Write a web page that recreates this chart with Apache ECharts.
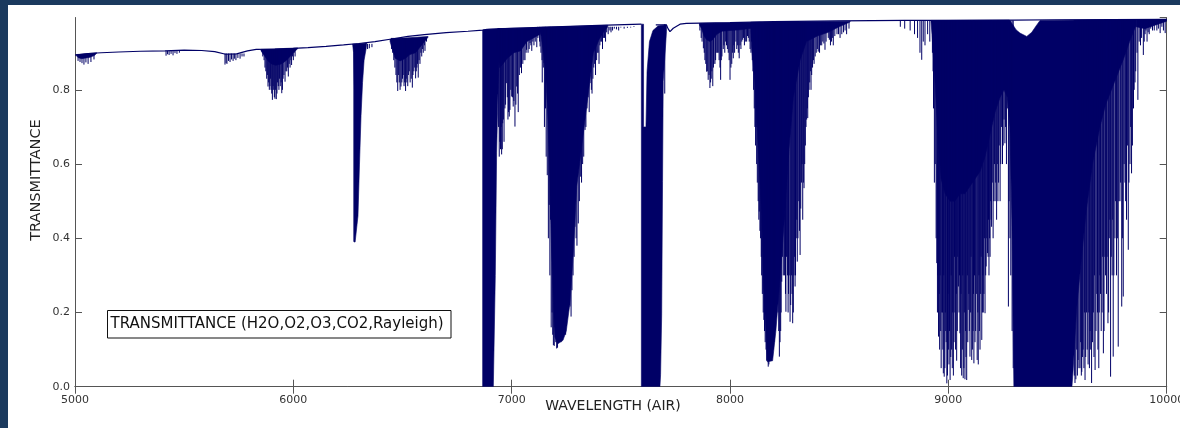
<!DOCTYPE html>
<html>
<head>
<meta charset="utf-8">
<script src="https://cdn.jsdelivr.net/npm/echarts@6/dist/echarts.min.js"></script>
<style>
  html, body { margin: 0; padding: 0; width: 1180px; height: 428px; overflow: hidden; background: #1b3a5e; }
  #chart { position: absolute; left: 8px; top: 5px; width: 1172px; height: 423px; background: #ffffff; }
</style>
</head>
<body>
<div id="chart"></div>
<script>
// Atmospheric transmittance, 5000-10000 Å (air wavelengths)

const xTicks = [5000, 6000, 7000, 8000, 9000, 10000];
const yTicks = [0.0, 0.2, 0.4, 0.6, 0.8];

// Clear-sky continuum (Rayleigh + ozone), broken across the saturated O2 A band
const continuumWave = [5000, 5060, 5120, 5200, 5300, 5412, 5500, 5580, 5640, 5690, 5740, 5790, 5830, 5916, 6000, 6067, 6150, 6230, 6300, 6374, 6450, 6525, 6600, 6700, 6800, 6867, 6887, 7000, 7200, 7400, 7594, 7620, 7660, 7709, 7716, 7725, 7740, 7771, 7800, 8000, 8200, 8500, 8800, 9000, 9300, 9500, 10000];
const continuumTrans = [0.894, 0.898, 0.900, 0.902, 0.904, 0.905, 0.907, 0.906, 0.903, 0.896, 0.897, 0.905, 0.909, 0.910, 0.912, 0.914, 0.917, 0.921, 0.925, 0.930, 0.937, 0.944, 0.949, 0.954, 0.958, 0.961, 0.963, 0.966, 0.970, 0.974, 0.977, null, 0.975, 0.975, 0.965, 0.957, 0.966, 0.977, 0.979, 0.981, 0.984, 0.986, 0.987, 0.987, 0.988, 0.989, 0.990];

// Blended / saturated absorption regions: outlines as [wavelength, transmittance]
const band5050 = [[5005, 0.895], [5100, 0.900], [5100, 0.899], [5090, 0.893], [5070, 0.888], [5050, 0.886], [5030, 0.884], [5014, 0.887], [5005, 0.893]];
const band5920 = [[5852, 0.909], [6020, 0.913], [6020, 0.911], [6000, 0.900], [5985, 0.890], [5965, 0.878], [5945, 0.870], [5920, 0.866], [5900, 0.870], [5884, 0.878], [5870, 0.890], [5852, 0.905]];
const band6280 = [[6270, 0.923], [6336, 0.926], [6333, 0.910], [6324, 0.880], [6317, 0.820], [6310, 0.730], [6303, 0.600], [6296, 0.460], [6283, 0.390], [6278, 0.390], [6278, 0.800], [6276, 0.900], [6272, 0.920]];
const band6520 = [[6443, 0.937], [6617, 0.944], [6617, 0.942], [6603, 0.932], [6580, 0.915], [6560, 0.900], [6534, 0.895], [6514, 0.885], [6489, 0.878], [6466, 0.885], [6443, 0.930]];
const bandO2B = [[6867, 0.961], [6895, 0.963], [6920, 0.964], [6945, 0.965], [6945, 0.940], [6938, 0.810], [6931, 0.630], [6925, 0.300], [6916, 0.0], [6867, 0.0]];
const band7040 = [[6935, 0.965], [7130, 0.968], [7130, 0.950], [7100, 0.940], [7070, 0.930], [7040, 0.905], [7010, 0.900], [6980, 0.885], [6960, 0.870], [6945, 0.860], [6935, 0.900]];
const band7250 = [[7125, 0.968], [7440, 0.974], [7440, 0.970], [7420, 0.955], [7400, 0.935], [7374, 0.900], [7336, 0.720], [7298, 0.540], [7282, 0.360], [7267, 0.226], [7250, 0.150], [7235, 0.125], [7210, 0.115], [7198, 0.134], [7191, 0.226], [7183, 0.360], [7176, 0.540], [7166, 0.720], [7155, 0.850], [7145, 0.900], [7135, 0.945], [7125, 0.965]];
const bandO2A = [[7594, 0.977], [7604, 0.977], [7604, 0.700], [7615, 0.700], [7620, 0.850], [7631, 0.930], [7647, 0.960], [7670, 0.972], [7700, 0.975], [7709, 0.975], [7709, 0.957], [7694, 0.822], [7691, 0.553], [7687, 0.193], [7682, 0.032], [7679, 0.0], [7594, 0.0]];
const band7950 = [[7860, 0.979], [8140, 0.982], [8140, 0.972], [8100, 0.966], [8050, 0.962], [8000, 0.960], [7963, 0.958], [7940, 0.950], [7921, 0.935], [7908, 0.930], [7893, 0.935], [7881, 0.945], [7870, 0.965], [7860, 0.975]];
const band8200 = [[8095, 0.982], [8550, 0.985], [8550, 0.983], [8500, 0.970], [8450, 0.955], [8400, 0.945], [8350, 0.930], [8321, 0.880], [8290, 0.780], [8270, 0.640], [8250, 0.460], [8230, 0.300], [8210, 0.150], [8195, 0.070], [8171, 0.067], [8165, 0.148], [8152, 0.283], [8145, 0.463], [8129, 0.643], [8114, 0.822], [8099, 0.912], [8095, 0.960]];
const band9400 = [[8920, 0.987], [9280, 0.988], [9296, 0.975], [9310, 0.962], [9328, 0.953], [9359, 0.944], [9382, 0.955], [9405, 0.975], [9420, 0.987], [9700, 0.989], [9860, 0.989], [9860, 0.975], [9830, 0.930], [9800, 0.880], [9760, 0.820], [9720, 0.760], [9694, 0.700], [9660, 0.600], [9632, 0.476], [9610, 0.350], [9587, 0.207], [9572, 0.050], [9566, 0.0], [9300, 0.0], [9296, 0.200], [9291, 0.450], [9282, 0.700], [9270, 0.780], [9255, 0.800], [9237, 0.780], [9214, 0.740], [9191, 0.680], [9168, 0.620], [9145, 0.580], [9122, 0.560], [9099, 0.540], [9076, 0.520], [9053, 0.520], [9030, 0.500], [9008, 0.500], [8985, 0.520], [8967, 0.560], [8953, 0.660], [8939, 0.820], [8925, 0.950]];
const band9930 = [[9860, 0.989], [10000, 0.990], [10000, 0.985], [9950, 0.975], [9900, 0.965], [9860, 0.970]];

// Individual absorption lines: [wavelength, line-centre transmittance]
const lines5050 = [[5014, 0.878], [5023, 0.875], [5032, 0.872], [5041, 0.868], [5050, 0.874], [5060, 0.870], [5073, 0.875], [5087, 0.882]];
const lines5450 = [[5417, 0.892], [5424, 0.896], [5431, 0.894], [5440, 0.897], [5449, 0.893], [5458, 0.899], [5467, 0.897], [5478, 0.900]];
const lines5720 = [[5687, 0.868], [5692, 0.872], [5696, 0.870], [5703, 0.878], [5710, 0.875], [5717, 0.882], [5724, 0.878], [5730, 0.884], [5737, 0.880], [5746, 0.886], [5756, 0.884], [5765, 0.890], [5774, 0.890]];
const lines5920 = [[5860, 0.890], [5866, 0.880], [5870, 0.860], [5874, 0.850], [5878, 0.830], [5881, 0.840], [5884, 0.809], [5887, 0.820], [5890, 0.800], [5893, 0.810], [5895, 0.830], [5898, 0.800], [5901, 0.790], [5904, 0.773], [5907, 0.810], [5910, 0.800], [5913, 0.780], [5916, 0.776], [5919, 0.800], [5922, 0.775], [5925, 0.790], [5928, 0.820], [5931, 0.810], [5934, 0.800], [5937, 0.830], [5940, 0.810], [5944, 0.820], [5947, 0.791], [5950, 0.800], [5953, 0.830], [5957, 0.840], [5962, 0.822], [5966, 0.850], [5970, 0.850], [5973, 0.860], [5977, 0.836], [5981, 0.870], [5985, 0.860], [5989, 0.880], [5992, 0.867], [5996, 0.890], [6000, 0.880], [6004, 0.900], [6008, 0.890]];
const lines6280 = [[6278, 0.391], [6290, 0.455], [6340, 0.910], [6348, 0.912], [6360, 0.915]];
const lines6520 = [[6450, 0.910], [6455, 0.900], [6460, 0.880], [6465, 0.860], [6470, 0.840], [6474, 0.820], [6478, 0.797], [6481, 0.840], [6485, 0.820], [6489, 0.800], [6493, 0.809], [6497, 0.820], [6500, 0.830], [6503, 0.840], [6507, 0.810], [6510, 0.820], [6514, 0.797], [6517, 0.830], [6520, 0.820], [6524, 0.810], [6527, 0.840], [6531, 0.850], [6535, 0.820], [6540, 0.830], [6545, 0.806], [6548, 0.840], [6552, 0.850], [6556, 0.860], [6560, 0.831], [6563, 0.850], [6566, 0.860], [6569, 0.870], [6572, 0.833], [6576, 0.880], [6580, 0.870], [6584, 0.900], [6588, 0.890], [6592, 0.910], [6595, 0.900], [6600, 0.920], [6603, 0.905], [6610, 0.930]];
const lines7040 = [[6940, 0.700], [6943, 0.620], [6946, 0.660], [6949, 0.640], [6952, 0.700], [6954, 0.626], [6957, 0.640], [6959, 0.710], [6962, 0.720], [6965, 0.660], [6969, 0.750], [6972, 0.760], [6977, 0.818], [6980, 0.780], [6983, 0.720], [6986, 0.740], [6989, 0.728], [6992, 0.746], [6996, 0.800], [7000, 0.782], [7004, 0.780], [7007, 0.755], [7010, 0.770], [7015, 0.701], [7019, 0.760], [7023, 0.809], [7027, 0.790], [7030, 0.740], [7035, 0.840], [7040, 0.860], [7045, 0.845], [7051, 0.870], [7056, 0.880], [7061, 0.880], [7066, 0.900], [7068, 0.908], [7075, 0.900], [7080, 0.910], [7084, 0.926], [7088, 0.920], [7092, 0.905], [7097, 0.930], [7102, 0.920], [7108, 0.930], [7115, 0.915], [7120, 0.940], [7130, 0.917], [7139, 0.880], [7148, 0.872], [7160, 0.880]];
const lines7250 = [[7120, 0.950], [7128, 0.930], [7134, 0.900], [7140, 0.820], [7145, 0.860], [7150, 0.700], [7155, 0.750], [7158, 0.620], [7163, 0.570], [7168, 0.400], [7172, 0.490], [7175, 0.300], [7178, 0.450], [7181, 0.160], [7185, 0.200], [7188, 0.140], [7191, 0.112], [7195, 0.110], [7198, 0.160], [7202, 0.120], [7206, 0.103], [7210, 0.105], [7214, 0.153], [7218, 0.140], [7222, 0.130], [7226, 0.120], [7229, 0.160], [7235, 0.171], [7240, 0.160], [7243, 0.200], [7247, 0.140], [7252, 0.189], [7256, 0.200], [7260, 0.250], [7264, 0.220], [7267, 0.216], [7272, 0.189], [7276, 0.260], [7281, 0.300], [7286, 0.350], [7290, 0.431], [7295, 0.400], [7299, 0.380], [7305, 0.440], [7310, 0.500], [7316, 0.566], [7320, 0.550], [7325, 0.600], [7330, 0.620], [7336, 0.692], [7340, 0.700], [7345, 0.750], [7350, 0.780], [7355, 0.740], [7359, 0.818], [7362, 0.850], [7365, 0.800], [7368, 0.790], [7372, 0.830], [7376, 0.860], [7380, 0.870], [7384, 0.840], [7389, 0.880], [7392, 0.900], [7396, 0.900], [7400, 0.870], [7404, 0.920], [7408, 0.930], [7412, 0.930], [7416, 0.910], [7420, 0.940], [7425, 0.940], [7430, 0.930], [7435, 0.955], [7442, 0.950], [7450, 0.960], [7455, 0.955], [7462, 0.960], [7470, 0.965], [7480, 0.963], [7490, 0.960], [7500, 0.968], [7515, 0.965], [7530, 0.967], [7545, 0.968], [7560, 0.972], [7575, 0.970]];
const linesO2A = [[7701, 0.790]];
const lines7950 = [[7862, 0.960], [7868, 0.940], [7872, 0.930], [7878, 0.912], [7882, 0.900], [7885, 0.880], [7889, 0.870], [7893, 0.849], [7896, 0.850], [7900, 0.827], [7904, 0.840], [7908, 0.805], [7911, 0.820], [7914, 0.830], [7917, 0.850], [7921, 0.810], [7924, 0.860], [7926, 0.870], [7931, 0.870], [7934, 0.880], [7937, 0.900], [7942, 0.900], [7946, 0.900], [7950, 0.880], [7954, 0.860], [7957, 0.827], [7960, 0.880], [7963, 0.890], [7969, 0.910], [7972, 0.920], [7976, 0.900], [7980, 0.930], [7984, 0.920], [7988, 0.910], [7992, 0.900], [7996, 0.880], [8000, 0.827], [8004, 0.860], [8008, 0.870], [8012, 0.900], [8015, 0.885], [8018, 0.920], [8021, 0.900], [8027, 0.930], [8031, 0.910], [8035, 0.920], [8038, 0.900], [8042, 0.885], [8046, 0.920], [8050, 0.910], [8054, 0.930], [8058, 0.935], [8062, 0.940], [8066, 0.920], [8070, 0.930], [8076, 0.930], [8080, 0.945], [8084, 0.940], [8088, 0.930], [8092, 0.910], [8096, 0.900]];
const lines8200 = [[8098, 0.930], [8102, 0.880], [8105, 0.850], [8108, 0.800], [8111, 0.750], [8114, 0.700], [8117, 0.650], [8120, 0.700], [8122, 0.600], [8125, 0.550], [8129, 0.500], [8132, 0.450], [8134, 0.472], [8137, 0.420], [8140, 0.400], [8143, 0.350], [8145, 0.300], [8148, 0.250], [8152, 0.200], [8155, 0.180], [8158, 0.150], [8161, 0.120], [8165, 0.100], [8168, 0.070], [8171, 0.070], [8175, 0.054], [8178, 0.060], [8180, 0.080], [8184, 0.100], [8188, 0.085], [8190, 0.100], [8193, 0.120], [8196, 0.130], [8198, 0.100], [8202, 0.120], [8205, 0.150], [8208, 0.200], [8211, 0.250], [8214, 0.427], [8217, 0.300], [8220, 0.200], [8223, 0.150], [8226, 0.081], [8229, 0.120], [8232, 0.150], [8234, 0.200], [8237, 0.283], [8240, 0.350], [8244, 0.300], [8247, 0.450], [8250, 0.300], [8252, 0.350], [8254, 0.250], [8256, 0.202], [8259, 0.350], [8263, 0.300], [8266, 0.200], [8268, 0.250], [8271, 0.300], [8275, 0.175], [8278, 0.220], [8281, 0.300], [8284, 0.250], [8287, 0.171], [8290, 0.200], [8293, 0.300], [8296, 0.350], [8298, 0.270], [8300, 0.300], [8303, 0.400], [8306, 0.450], [8308, 0.337], [8311, 0.400], [8315, 0.500], [8318, 0.420], [8321, 0.355], [8324, 0.480], [8327, 0.550], [8330, 0.600], [8333, 0.450], [8336, 0.550], [8339, 0.535], [8342, 0.600], [8345, 0.650], [8348, 0.700], [8351, 0.720], [8354, 0.750], [8356, 0.724], [8359, 0.780], [8362, 0.800], [8365, 0.820], [8368, 0.850], [8371, 0.800], [8374, 0.840], [8378, 0.860], [8382, 0.880], [8385, 0.870], [8390, 0.890], [8395, 0.900], [8400, 0.910], [8404, 0.903], [8410, 0.900], [8415, 0.920], [8420, 0.920], [8425, 0.930], [8430, 0.925], [8435, 0.908], [8440, 0.930], [8450, 0.940], [8455, 0.935], [8460, 0.920], [8465, 0.930], [8470, 0.940], [8473, 0.920], [8480, 0.945], [8490, 0.950], [8497, 0.950], [8504, 0.940], [8512, 0.950], [8520, 0.955], [8527, 0.960], [8534, 0.950], [8545, 0.965]];
const lines8850 = [[8780, 0.970], [8800, 0.965], [8825, 0.960], [8845, 0.950], [8859, 0.940], [8870, 0.900], [8878, 0.881], [8885, 0.930], [8893, 0.920], [8905, 0.950], [8915, 0.930]];
const lines9100 = [[8927, 0.900], [8930, 0.850], [8932, 0.750], [8936, 0.550], [8940, 0.600], [8944, 0.400], [8947, 0.333], [8950, 0.200], [8952, 0.300], [8955, 0.135], [8958, 0.250], [8960, 0.100], [8962, 0.300], [8965, 0.150], [8967, 0.050], [8970, 0.200], [8973, 0.200], [8975, 0.100], [8977, 0.036], [8979, 0.300], [8981, 0.027], [8984, 0.050], [8986, 0.200], [8988, 0.150], [8990, 0.120], [8993, 0.009], [8996, 0.030], [8998, 0.250], [9000, 0.100], [9003, 0.060], [9005, 0.150], [9008, 0.018], [9011, 0.080], [9013, 0.300], [9015, 0.100], [9018, 0.050], [9020, 0.200], [9023, 0.030], [9026, 0.120], [9028, 0.350], [9030, 0.200], [9033, 0.100], [9036, 0.250], [9038, 0.070], [9041, 0.150], [9043, 0.350], [9046, 0.270], [9049, 0.200], [9051, 0.300], [9053, 0.144], [9056, 0.050], [9058, 0.250], [9061, 0.030], [9064, 0.100], [9066, 0.300], [9068, 0.023], [9071, 0.050], [9073, 0.200], [9076, 0.020], [9079, 0.150], [9081, 0.080], [9084, 0.018], [9087, 0.300], [9089, 0.120], [9091, 0.207], [9094, 0.250], [9096, 0.150], [9099, 0.081], [9102, 0.200], [9104, 0.350], [9107, 0.072], [9110, 0.100], [9113, 0.150], [9115, 0.250], [9117, 0.063], [9120, 0.300], [9122, 0.120], [9125, 0.150], [9128, 0.250], [9132, 0.072], [9135, 0.200], [9137, 0.060], [9140, 0.300], [9142, 0.150], [9145, 0.100], [9148, 0.250], [9150, 0.350], [9153, 0.126], [9156, 0.200], [9158, 0.300], [9160, 0.200], [9163, 0.250], [9165, 0.400], [9168, 0.198], [9171, 0.300], [9173, 0.324], [9176, 0.400], [9179, 0.360], [9182, 0.350], [9184, 0.450], [9186, 0.300], [9189, 0.400], [9191, 0.350], [9194, 0.500], [9196, 0.450], [9198, 0.431], [9201, 0.550], [9205, 0.400], [9208, 0.500], [9211, 0.600], [9214, 0.500], [9217, 0.550], [9221, 0.450], [9224, 0.600], [9227, 0.500], [9230, 0.550], [9233, 0.650], [9237, 0.500], [9240, 0.600], [9244, 0.700], [9248, 0.600], [9251, 0.650], [9255, 0.720], [9259, 0.656], [9262, 0.700], [9266, 0.600], [9270, 0.750], [9275, 0.216], [9278, 0.500], [9282, 0.400], [9286, 0.300], [9292, 0.150], [9297, 0.050]];
const lines9700 = [[9577, 0.030], [9580, 0.010], [9584, 0.020], [9588, 0.100], [9591, 0.030], [9594, 0.072], [9598, 0.050], [9603, 0.050], [9606, 0.120], [9609, 0.030], [9611, 0.040], [9614, 0.080], [9617, 0.100], [9621, 0.050], [9623, 0.200], [9626, 0.018], [9629, 0.080], [9633, 0.200], [9636, 0.100], [9640, 0.060], [9643, 0.200], [9646, 0.050], [9649, 0.150], [9652, 0.100], [9656, 0.010], [9660, 0.120], [9664, 0.200], [9667, 0.080], [9669, 0.300], [9672, 0.045], [9676, 0.150], [9680, 0.250], [9683, 0.200], [9685, 0.100], [9689, 0.050], [9691, 0.200], [9694, 0.300], [9697, 0.250], [9700, 0.150], [9704, 0.200], [9707, 0.350], [9710, 0.090], [9713, 0.150], [9717, 0.350], [9720, 0.300], [9724, 0.250], [9727, 0.350], [9731, 0.171], [9734, 0.200], [9737, 0.400], [9740, 0.450], [9743, 0.027], [9746, 0.350], [9750, 0.300], [9753, 0.450], [9755, 0.081], [9758, 0.300], [9763, 0.400], [9766, 0.500], [9770, 0.300], [9774, 0.400], [9778, 0.108], [9781, 0.500], [9786, 0.500], [9789, 0.550], [9794, 0.216], [9797, 0.400], [9801, 0.243], [9805, 0.600], [9809, 0.550], [9812, 0.500], [9816, 0.450], [9820, 0.650], [9824, 0.369], [9827, 0.550], [9832, 0.600], [9835, 0.700], [9839, 0.575], [9843, 0.650], [9848, 0.750], [9851, 0.800], [9855, 0.820], [9858, 0.850], [9864, 0.900], [9868, 0.773], [9874, 0.930], [9880, 0.920], [9885, 0.940], [9893, 0.894], [9897, 0.930], [9901, 0.950], [9905, 0.960], [9910, 0.930], [9915, 0.955], [9920, 0.950], [9927, 0.965], [9935, 0.960], [9943, 0.960], [9955, 0.960], [9962, 0.965], [9970, 0.953], [9978, 0.970], [9985, 0.960], [9993, 0.953]];

// Line groups with the transmittance of the band top each line hangs from
const lineGroups = [
  [0.895, lines5050], [0.905, lines5450], [0.898, lines5720], [0.910, lines5920],
  [0.924, lines6280], [0.940, lines6520], [0.966, lines7040], [0.970, lines7250],
  [0.977, linesO2A], [0.980, lines7950], [0.983, lines8200], [0.987, lines8850],
  [0.987, lines9100], [0.988, lines9700]
];
const bandOutlines = [band5050, band5920, band6280, band6520, bandO2B, band7040, band7250, bandO2A, band7950, band8200, band9400, band9930];

const INK = '#000066';
const AXIS = '#555555';
const FONT = "'DejaVu Sans', 'Liberation Sans', sans-serif";

const spikeData = [];
lineGroups.forEach(([top, lines]) => lines.forEach(([w, t]) => spikeData.push([w, top, t])));
const continuumData = continuumWave.map((w, i) => [w, continuumTrans[i]]);

const chart = echarts.init(document.getElementById('chart'), null, { renderer: 'canvas' });

const axisCommon = {
  type: 'value',
  axisLine: { show: true, lineStyle: { color: AXIS, width: 1 } },
  axisTick: { show: true, inside: true, length: 7, lineStyle: { color: AXIS } },
  splitLine: { show: false }
};

chart.setOption({
  animation: false,
  grid: { left: 67, right: 13.3, top: 12.5, bottom: 41.3, containLabel: false, outerBoundsMode: 'none' },
  xAxis: [
    Object.assign({}, axisCommon, {
      position: 'bottom', min: xTicks[0], max: xTicks[xTicks.length - 1], interval: 1000,
      axisLabel: { show: true, margin: 8, fontFamily: FONT, fontSize: 11, color: '#333', formatter: v => String(v) }
    }),
    Object.assign({}, axisCommon, {
      position: 'top', min: xTicks[0], max: xTicks[xTicks.length - 1], interval: 1000,
      axisLabel: { show: false }
    })
  ],
  yAxis: [
    Object.assign({}, axisCommon, {
      position: 'left', min: 0, max: 0.995, interval: 0.2,
      axisLabel: {
        show: true, margin: 5, fontFamily: FONT, fontSize: 11, color: '#333', showMaxLabel: false,
        formatter: v => (yTicks.some(t => Math.abs(t - v) < 1e-6) ? v.toFixed(1) : '')
      }
    }),
    Object.assign({}, axisCommon, {
      position: 'right', min: 0, max: 0.995, interval: 0.2,
      axisLabel: { show: false }
    })
  ],
  series: [
    {
      type: 'custom',
      name: 'bands',
      xAxisIndex: 0, yAxisIndex: 0,
      clip: true,
      data: bandOutlines.map(p => p[0]),
      renderItem: (params, api) => {
        const poly = bandOutlines[params.dataIndex];
        return {
          type: 'polygon',
          shape: { points: poly.map(p => api.coord(p)) },
          style: { fill: INK, stroke: INK, lineWidth: 0.6 }
        };
      }
    },
    {
      type: 'custom',
      name: 'lines',
      xAxisIndex: 0, yAxisIndex: 0,
      clip: true,
      dimensions: ['wave', 'top', 'bottom'],
      encode: { x: 0, y: [1, 2] },
      data: spikeData,
      renderItem: (params, api) => {
        const w = api.value(0);
        const a = api.coord([w, api.value(1)]);
        const b = api.coord([w, api.value(2)]);
        return {
          type: 'line',
          shape: { x1: a[0], y1: a[1], x2: b[0], y2: b[1] },
          style: { stroke: INK, lineWidth: 1 }
        };
      }
    },
    {
      type: 'line',
      name: 'continuum',
      xAxisIndex: 0, yAxisIndex: 0,
      data: continuumData,
      showSymbol: false,
      connectNulls: false,
      lineStyle: { color: INK, width: 1.2 },
      z: 3
    }
  ],
  graphic: [
    {
      type: 'text', z: 100,
      x: 605, y: 401.5,
      style: { text: 'WAVELENGTH (AIR)', font: "14px 'DejaVu Sans', sans-serif", fill: '#222', align: 'center', verticalAlign: 'middle' }
    },
    {
      type: 'text', z: 100,
      x: 28, y: 175, rotation: Math.PI / 2,
      style: { text: 'TRANSMITTANCE', font: "14.5px 'DejaVu Sans', sans-serif", fill: '#222', align: 'center', verticalAlign: 'middle' }
    },
    {
      type: 'group', z: 100,
      children: [
        { type: 'rect', z: 100, shape: { x: 99.5, y: 305.5, width: 343.5, height: 27.5 }, style: { fill: '#ffffff', stroke: '#111', lineWidth: 1 } },
        { type: 'text', z: 101, x: 102.5, y: 319.5, style: { text: 'TRANSMITTANCE (H2O,O2,O3,CO2,Rayleigh)', font: "15px 'DejaVu Sans', sans-serif", fill: '#111', align: 'left', verticalAlign: 'middle' } }
      ]
    }
  ]
});
</script>
</body>
</html>
